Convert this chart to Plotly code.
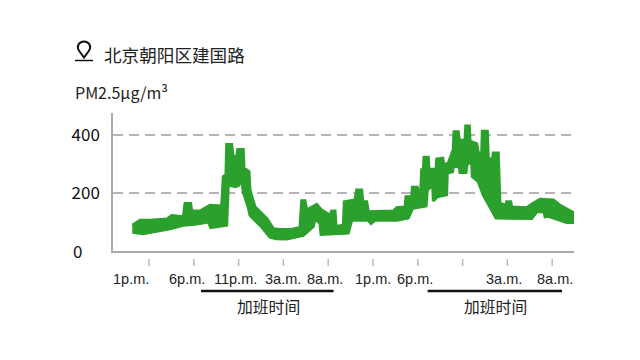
import plotly.graph_objects as go

# Hours since the first 1 p.m.; upper and lower edges of the PM2.5 band
upper_h = [-1.86,-1.0,0.11,1.98,2.53,3.83,4.02,4.65,4.77,5.69,6.81,8.11,8.29,8.59,8.67,9.23,9.38,9.79,9.9,10.52,10.6,11.16,11.27,11.83,13.14,13.87,14.6,16.0,16.85,17.04,17.41,17.6,18.72,19.27,20.2,20.39,20.76,20.87,21.69,21.8,22.99,23.18,23.74,23.85,24.3,24.48,27.27,27.65,28.57,28.68,29.32,29.39,29.94,30.06,30.33,30.43,30.62,30.69,31.17,31.25,32.03,32.11,32.78,32.92,33.4,33.96,34.04,34.52,34.63,35.27,35.35,35.75,35.83,36.57,36.75,37.13,37.2,37.76,37.87,38.36,38.42,38.98,39.17,39.84,39.92,40.37,40.48,42.15,42.71,43.64,45.13,45.87,47.54]
upper_v = [89,106,106,110,122,118,164,164,138,138,158,155,257,263,367,367,326,326,350,350,286,274,210,152,112,77,74,75,81,173,173,141,161,141,123,138,138,85,89,170,176,210,210,170,170,135,138,149,152,187,187,220,220,205,208,280,280,323,323,282,282,317,320,297,303,350,411,411,382,382,431,431,378,370,338,338,413,413,317,320,338,338,164,158,170,170,152,149,161,178,176,158,129]
lower_h = [-1.86,-0.67,2.34,3.79,5.13,6.62,6.89,7.37,8.67,8.85,9.6,9.97,10.35,10.52,11.08,11.27,12.58,13.5,14.2,15.37,17.22,18.34,18.53,19.08,19.2,22.24,22.62,24.44,24.78,25.22,27.65,28.94,29.43,30.92,31.06,31.66,31.73,32.18,33.22,33.29,33.89,33.93,34.63,34.71,35.38,35.52,36.02,36.08,36.75,37.31,38.73,42.71,43.27,44.09,44.2,44.57,45.31,46.61,47.35,47.73]
lower_v = [65,60,77,89,92,100,81,83,89,228,222,225,245,205,150,123,83,48,42,41,54,85,112,95,57,62,106,106,95,106,106,114,147,155,210,228,173,187,194,268,274,291,291,271,271,303,303,257,239,193,114,112,135,135,118,120,112,98,98,118]

tick_hours = [0,5,10,15,20,25,30,35,40,45]
tick_labels = ["1p.m.","6p.m.","11p.m.","3a.m.","8a.m.","1p.m.","6p.m.","","3a.m.","8a.m."]
label_shift = [-18,-7,-3,0,-3,0,-3,0,-3,3]
overtime_spans = [(5.8,20.6),(31.1,46.1)]
y_ticks = [200,400]
title = "北京朝阳区建国路"
unit = "PM2.5μg/m³"
overtime = "加班时间"

GREEN = "#2ca02c"
CJK = "Noto Sans CJK SC"
L,R,T,B = 113,574,113,251
px = lambda x:(x-L)/(R-L)
py = lambda y:(B-y)/(B-T)

fig = go.Figure()
fig.add_trace(go.Scatter(
    x=upper_h+lower_h[::-1],
    y=upper_v+lower_v[::-1],
    mode="lines",fill="toself",fillcolor=GREEN,
    line=dict(color=GREEN,width=3,shape="linear"),
    cliponaxis=False,hoverinfo="skip",showlegend=False))

ann=[]
def text(x,y,s,size,anchor="left",color="#222",font=CJK):
    ann.append(dict(x=px(x),y=py(y),xref="paper",yref="paper",text=s,showarrow=False,
        xanchor=anchor,yanchor="middle",font=dict(family=font,size=size,color=color),align=anchor))
text(102,54,title,17.6)
text(73,92,unit,16)
text(71,250,"0",17,color="#111")
shapes=[]
for h,lab,sh in zip(tick_hours,tick_labels,label_shift):
    shapes.append(dict(type="line",xref="x",x0=h,x1=h,yref="paper",y0=py(259),y1=py(266),
        line=dict(color="#bbb",width=1.5)))
    if lab:
        ann.append(dict(x=h,y=py(279),xref="x",yref="paper",text=lab,showarrow=False,xshift=sh,
            xanchor="center",yanchor="middle",font=dict(family="Liberation Sans",size=14.5,color="#222")))
for a,b in overtime_spans:
    shapes.append(dict(type="line",xref="x",x0=a,x1=b,yref="paper",y0=py(291),y1=py(291),
        line=dict(color="#111",width=2.5)))
    ann.append(dict(x=(a+b)/2,y=py(306),xref="x",yref="paper",text=overtime,showarrow=False,xshift=1,
        xanchor="center",yanchor="middle",font=dict(family=CJK,size=15.8,color="#222")))
# location pin icon
shapes.append(dict(type="path",xref="paper",yref="paper",xsizemode="pixel",ysizemode="pixel",
    xanchor=px(84),yanchor=py(48),
    path="M 0 -9.5 L -4.8 -3 C -8 1.5 -5 6.5 0 6.5 C 5 6.5 8 1.5 4.8 -3 Z",
    line=dict(color="#111",width=2),fillcolor="white"))
shapes.append(dict(type="line",xref="paper",yref="paper",x0=px(75),x1=px(93),y0=py(60.5),y1=py(60.5),
    line=dict(color="#111",width=1.5)))

fig.update_layout(
    width=640,height=360,paper_bgcolor="white",plot_bgcolor="white",
    margin=dict(l=L,r=640-R,t=T,b=360-B,autoexpand=False),
    annotations=ann,shapes=shapes,showlegend=False,
    xaxis=dict(range=[(L-149)/8.96,(R-149)/8.96],showgrid=False,zeroline=False,showticklabels=False,
        ticks="",showline=True,linecolor="#aaa",linewidth=1.5),
    yaxis=dict(range=[0,476],tickvals=y_ticks,ticktext=[str(v) for v in y_ticks],
        showgrid=True,gridcolor="#b5b5b5",gridwidth=1.5,griddash="10px,6px",zeroline=False,
        showline=True,linecolor="#aaa",linewidth=1.5,ticks="outside",ticklen=8,tickcolor="rgba(0,0,0,0)",
        tickfont=dict(family=CJK,size=17,color="#111")))
fig.write_html("out.html",post_script="document.body.style.margin='0';",config={"displayModeBar":False})
